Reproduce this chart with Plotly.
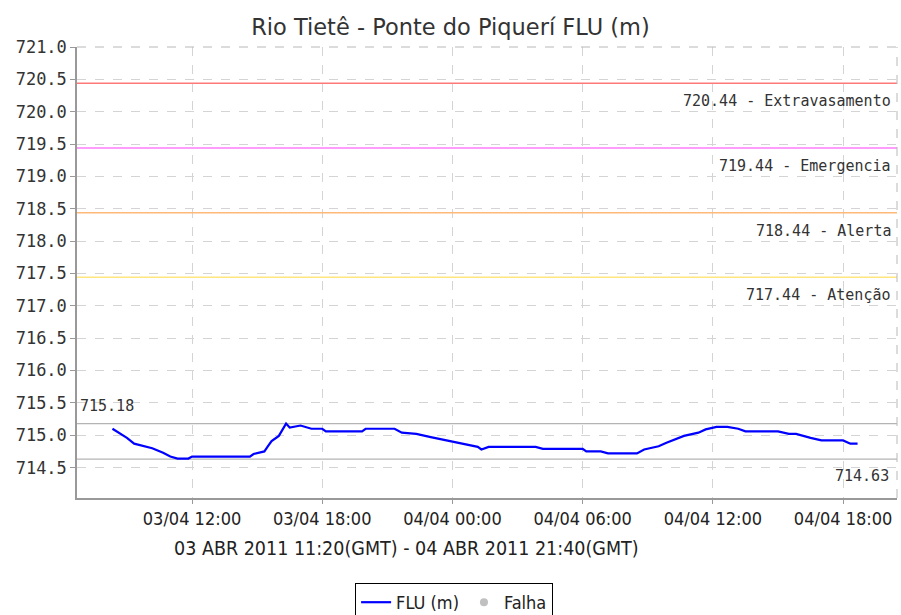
import plotly.graph_objects as go

# ---- data ----
times = [
    "2011-04-03 08:20", "2011-04-03 09:00", "2011-04-03 09:20", "2011-04-03 09:45",
    "2011-04-03 10:10", "2011-04-03 10:40", "2011-04-03 11:00", "2011-04-03 11:20",
    "2011-04-03 11:50", "2011-04-03 12:00", "2011-04-03 14:40", "2011-04-03 14:50",
    "2011-04-03 15:20", "2011-04-03 15:30", "2011-04-03 15:40", "2011-04-03 16:00",
    "2011-04-03 16:20", "2011-04-03 16:30", "2011-04-03 17:00", "2011-04-03 17:30",
    "2011-04-03 18:00", "2011-04-03 18:10", "2011-04-03 19:50", "2011-04-03 20:00",
    "2011-04-03 21:20", "2011-04-03 21:40", "2011-04-03 22:20", "2011-04-03 23:00",
    "2011-04-03 23:50", "2011-04-04 00:30", "2011-04-04 01:10", "2011-04-04 01:20",
    "2011-04-04 01:40", "2011-04-04 03:50", "2011-04-04 04:10", "2011-04-04 06:00",
    "2011-04-04 06:10", "2011-04-04 06:50", "2011-04-04 07:10", "2011-04-04 08:30",
    "2011-04-04 08:50", "2011-04-04 09:30", "2011-04-04 09:50", "2011-04-04 10:40",
    "2011-04-04 11:20", "2011-04-04 11:40", "2011-04-04 12:10", "2011-04-04 12:40",
    "2011-04-04 13:10", "2011-04-04 13:30", "2011-04-04 15:00", "2011-04-04 15:30",
    "2011-04-04 15:50", "2011-04-04 16:30", "2011-04-04 17:00", "2011-04-04 18:00",
    "2011-04-04 18:20", "2011-04-04 18:40",
]
flu = [
    715.10, 714.96, 714.87, 714.83,
    714.80, 714.73, 714.67, 714.64,
    714.64, 714.67, 714.67, 714.71,
    714.75, 714.83, 714.91, 714.99,
    715.18, 715.12, 715.15, 715.10,
    715.10, 715.06, 715.06, 715.10,
    715.10, 715.04, 715.02, 714.97,
    714.91, 714.87, 714.82, 714.78,
    714.82, 714.82, 714.79, 714.79,
    714.75, 714.75, 714.72, 714.72,
    714.78, 714.83, 714.88, 714.99,
    715.04, 715.09, 715.13, 715.13,
    715.10, 715.06, 715.06, 715.02,
    715.02, 714.96, 714.92, 714.92,
    714.87, 714.87,
]
falha_times = [None]
falha_values = [None]

tick_times = ["2011-04-03 12:00", "2011-04-03 18:00", "2011-04-04 00:00",
              "2011-04-04 06:00", "2011-04-04 12:00", "2011-04-04 18:00"]
tick_labels = ["03/04 12:00", "03/04 18:00", "04/04 00:00",
               "04/04 06:00", "04/04 12:00", "04/04 18:00"]

threshold_values = [720.44, 719.44, 718.44, 717.44]
threshold_names = ["Extravasamento", "Emergencia", "Alerta", "Atenção"]
threshold_colors = ["#ff7878", "#ff7cff", "#ffb878", "#ffe680"]

max_value = 715.18
min_value = 714.63

title = "Rio Tietê - Ponte do Piquerí FLU (m)"
x_title = "03 ABR 2011 11:20(GMT) - 04 ABR 2011 21:40(GMT)"

# ---- figure ----
FONT = "DejaVu Sans, sans-serif"
COND = "DejaVu Sans Condensed, DejaVu Sans, sans-serif"
MONO = "DejaVu Sans Mono, monospace"

fig = go.Figure()
fig.add_trace(go.Scatter(
    x=times, y=flu, mode="lines", name="FLU (m)",
    line=dict(color="#0000ff", width=2.2),
))
fig.add_trace(go.Scatter(
    x=falha_times, y=falha_values, mode="markers", name="Falha",
    marker=dict(color="#c0c0c0", size=8, symbol="circle"),
))

shapes = []
annotations = []
for v, n, c in zip(threshold_values, threshold_names, threshold_colors):
    shapes.append(dict(type="line", xref="paper", x0=0, x1=1, yref="y", y0=v, y1=v,
                       line=dict(color=c, width=1.5), layer="above"))
    annotations.append(dict(xref="paper", x=0.995, yref="y", y=v, xanchor="right",
                            yanchor="top", yshift=-7, showarrow=False,
                            text=f"{v:.2f} - {n}",
                            font=dict(family=MONO, size=15, color="#333333")))

for v in (max_value, min_value):
    shapes.append(dict(type="line", xref="paper", x0=0, x1=1, yref="y", y0=v, y1=v,
                       line=dict(color="#b4b4b4", width=1.2), layer="below"))
annotations.append(dict(xref="paper", x=0.001, yref="y", y=max_value, xanchor="left",
                        yanchor="bottom", yshift=7, showarrow=False, text=f"{max_value:.2f}",
                        font=dict(family=MONO, size=15, color="#333333")))
annotations.append(dict(xref="paper", x=0.993, yref="y", y=min_value, xanchor="right",
                        yanchor="top", yshift=-6, showarrow=False, text=f"{min_value:.2f}",
                        font=dict(family=MONO, size=15, color="#333333")))

# dashed outline top/right
shapes.append(dict(type="line", xref="paper", yref="paper", x0=0, x1=1, y0=1, y1=1,
                   line=dict(color="#b8b8b8", width=1, dash="dash")))
shapes.append(dict(type="line", xref="paper", yref="paper", x0=1, x1=1, y0=0, y1=1,
                   line=dict(color="#b8b8b8", width=1, dash="dash")))

annotations.append(dict(xref="paper", yref="paper", x=0.402, y=-0.111,
                        xanchor="center", yanchor="middle", showarrow=False,
                        text=x_title, font=dict(family=COND, size=19.5, color="#222222")))

fig.update_layout(
    width=901, height=615,
    margin=dict(l=77, r=4, t=47, b=117),
    paper_bgcolor="white", plot_bgcolor="white",
    title=dict(text=title, x=0.5, xanchor="center", y=0.956, yanchor="middle",
               font=dict(family=FONT, size=22.5, color="#333333")),
    showlegend=True,
    legend=dict(orientation="h", xref="container", yref="container",
                x=0.504, xanchor="center", y=1 - 583 / 615, yanchor="top",
                bordercolor="#000000", borderwidth=1, bgcolor="white",
                font=dict(family=COND, size=18, color="#222222"),
                itemwidth=30, tracegroupgap=0),
    shapes=shapes, annotations=annotations,
)
fig.update_xaxes(
    type="date", range=["2011-04-03 06:42", "2011-04-04 20:29"],
    tickvals=tick_times, ticktext=tick_labels, automargin=False,
    showgrid=True, gridcolor="#d4d4d4", griddash="dash", gridwidth=1,
    showline=True, linecolor="#999999", linewidth=1.5,
    ticks="outside", ticklen=4, tickcolor="#999999",
    tickfont=dict(family=COND, size=18, color="#222222"), zeroline=False,
)
fig.update_yaxes(
    range=[714.03, 721.0], dtick=0.5, tick0=714.5, tickformat=".1f",
    automargin=False,
    showgrid=True, gridcolor="#d4d4d4", griddash="dash", gridwidth=1,
    showline=True, linecolor="#999999", linewidth=1.5,
    ticks="outside", ticklen=5, tickcolor="#999999",
    tickfont=dict(family=MONO, size=17, color="#333333"), zeroline=False,
)

fig.write_html("out.html", config={"displayModeBar": False},
               post_script="document.body.style.margin='0';")
